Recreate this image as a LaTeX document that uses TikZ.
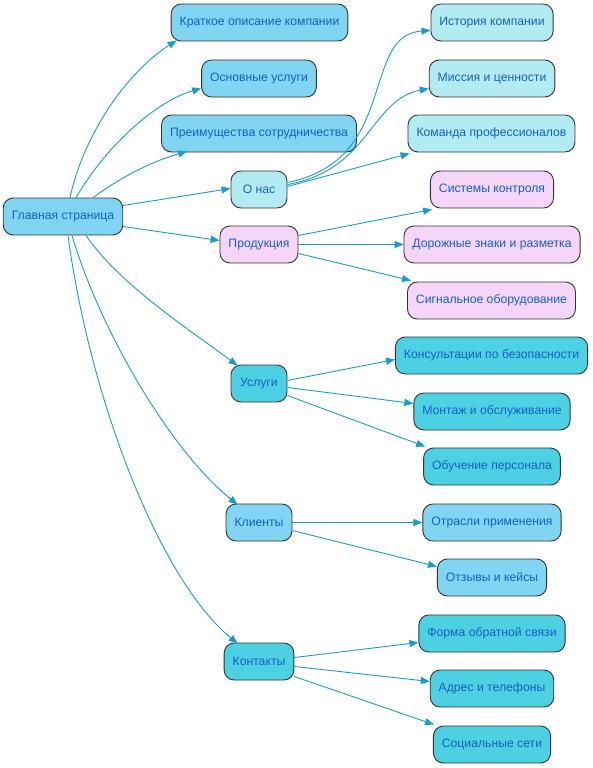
\documentclass[tikz,border=0pt]{standalone}
\usepackage{fontspec}
\setmainfont{Liberation Sans}
\usetikzlibrary{arrows.meta}
\definecolor{cLB}{HTML}{81D4F2}
\definecolor{cCy}{HTML}{B2EBF2}
\definecolor{cPk}{HTML}{F5D5F8}
\definecolor{cCD}{HTML}{4DD0E1}
\definecolor{cTx}{HTML}{1560C8}
\definecolor{cEd}{HTML}{1A9BD0}
\definecolor{cBd}{HTML}{333333}
\tikzset{
  box/.style={draw=cBd, line width=0.9pt, rounded corners=10pt, minimum height=37pt,
    minimum width=56pt, inner xsep=8.5pt, text=cTx, font=\fontsize{12.2}{14}\selectfont},
  lb/.style={box, fill=cLB},
  cy/.style={box, fill=cCy},
  pk/.style={box, fill=cPk},
  cd/.style={box, fill=cCD},
  arr/.style={draw=cEd, line width=0.9pt, -{Triangle[length=9pt,width=7pt]}}
}
\begin{document}
\begin{tikzpicture}[x=1pt,y=-1pt]
\useasboundingbox (0,0) rectangle (593,768);
% first column
\node[lb] (main) at (63,216.5) {Главная страница};
\node[lb] (kr) at (259.5,22.5) {Краткое описание компании};
\node[lb] (osn) at (259,78.5) {Основные услуги};
\node[lb] (pre) at (259,133.5) {Преимущества сотрудничества};
\node[cy] (onas) at (259,189.5) {О нас};
\node[pk] (prod) at (259,244.5) {Продукция};
\node[cd] (usl) at (259,383.5) {Услуги};
\node[lb] (kli) at (259,522.5) {Клиенты};
\node[cd] (kon) at (259,661.5) {Контакты};
% right column
\node[cy] (ist) at (492,22.5) {История компании};
\node[cy] (mis) at (492,78.5) {Миссия и ценности};
\node[cy] (kom) at (491.5,133.5) {Команда профессионалов};
\node[pk] (sis) at (492,189.5) {Системы контроля};
\node[pk] (dor) at (492,244.5) {Дорожные знаки и разметка};
\node[pk] (sig) at (491.5,300.5) {Сигнальное оборудование};
\node[cd] (kns) at (491.5,355.5) {Консультации по безопасности};
\node[cd] (mon) at (492,411.5) {Монтаж и обслуживание};
\node[cd] (obu) at (492,466.5) {Обучение персонала};
\node[lb] (otr) at (492,522.5) {Отрасли применения};
\node[lb] (otz) at (492,577.5) {Отзывы и кейсы};
\node[cd] (frm) at (492,633.5) {Форма обратной связи};
\node[cd] (adr) at (492,688.5) {Адрес и телефоны};
\node[cd] (soc) at (492,744.5) {Социальные сети};
% edges from main
\draw[arr] ([xshift=7pt]main.north) .. controls (85,130) and (130,70) .. ([xshift=6pt,yshift=1pt]kr.south west);
\draw[arr] ([xshift=13pt]main.north) .. controls (110,140) and (160,100) .. ([yshift=9pt]osn.south west);
\draw[arr] ([xshift=30pt]main.north) .. controls (120,178) and (150,162) .. ([xshift=26pt,yshift=1pt]pre.south west);
\draw[arr] ([yshift=11pt]main.east) -- ([yshift=1pt]onas.west);
\draw[arr] ([yshift=-10pt]main.east) -- ([yshift=4pt]prod.west);
\draw[arr] ([xshift=23pt]main.south) .. controls (120,285) and (190,330) .. ([xshift=7pt,yshift=-1pt]usl.north west);
\draw[arr] ([xshift=9pt]main.south) .. controls (100,330) and (170,450) .. ([xshift=12pt,yshift=-1pt]kli.north west);
\draw[arr] ([xshift=5pt]main.south) .. controls (90,400) and (160,580) .. ([xshift=14pt,yshift=-1pt]kon.north west);
% О нас
\draw[arr] ([yshift=7pt]onas.east) .. controls (400,160) and (360,35) .. ([yshift=-8pt]ist.west);
\draw[arr] ([yshift=5pt]onas.east) .. controls (370,170) and (370,100) .. ([yshift=-10pt]mis.west);
\draw[arr] ([yshift=3pt]onas.east) -- ([xshift=2pt,yshift=-1pt]kom.south west);
% Продукция
\draw[arr] ([yshift=9pt]prod.east) -- ([xshift=2pt,yshift=-1pt]sis.south west);
\draw[arr] (prod.east) -- (dor.west);
\draw[arr] ([yshift=-9pt]prod.east) -- ([xshift=4pt,yshift=1pt]sig.north west);
% Услуги
\draw[arr] ([yshift=3pt]usl.east) -- ([yshift=-4pt]kns.west);
\draw[arr] ([yshift=-4pt]usl.east) -- ([yshift=8pt]mon.west);
\draw[arr] ([yshift=-12pt]usl.east) -- ([xshift=2pt,yshift=1pt]obu.north west);
% Клиенты
\draw[arr] (kli.east) -- (otr.west);
\draw[arr] ([yshift=-8pt]kli.east) -- ([yshift=11pt]otz.west);
% Контакты
\draw[arr] ([yshift=4pt]kon.east) -- ([yshift=-9pt]frm.west);
\draw[arr] ([yshift=-5pt]kon.east) -- ([yshift=7pt]adr.west);
\draw[arr] ([yshift=-15pt]kon.east) -- ([xshift=1pt,yshift=1pt]soc.north west);
\end{tikzpicture}
\end{document}
